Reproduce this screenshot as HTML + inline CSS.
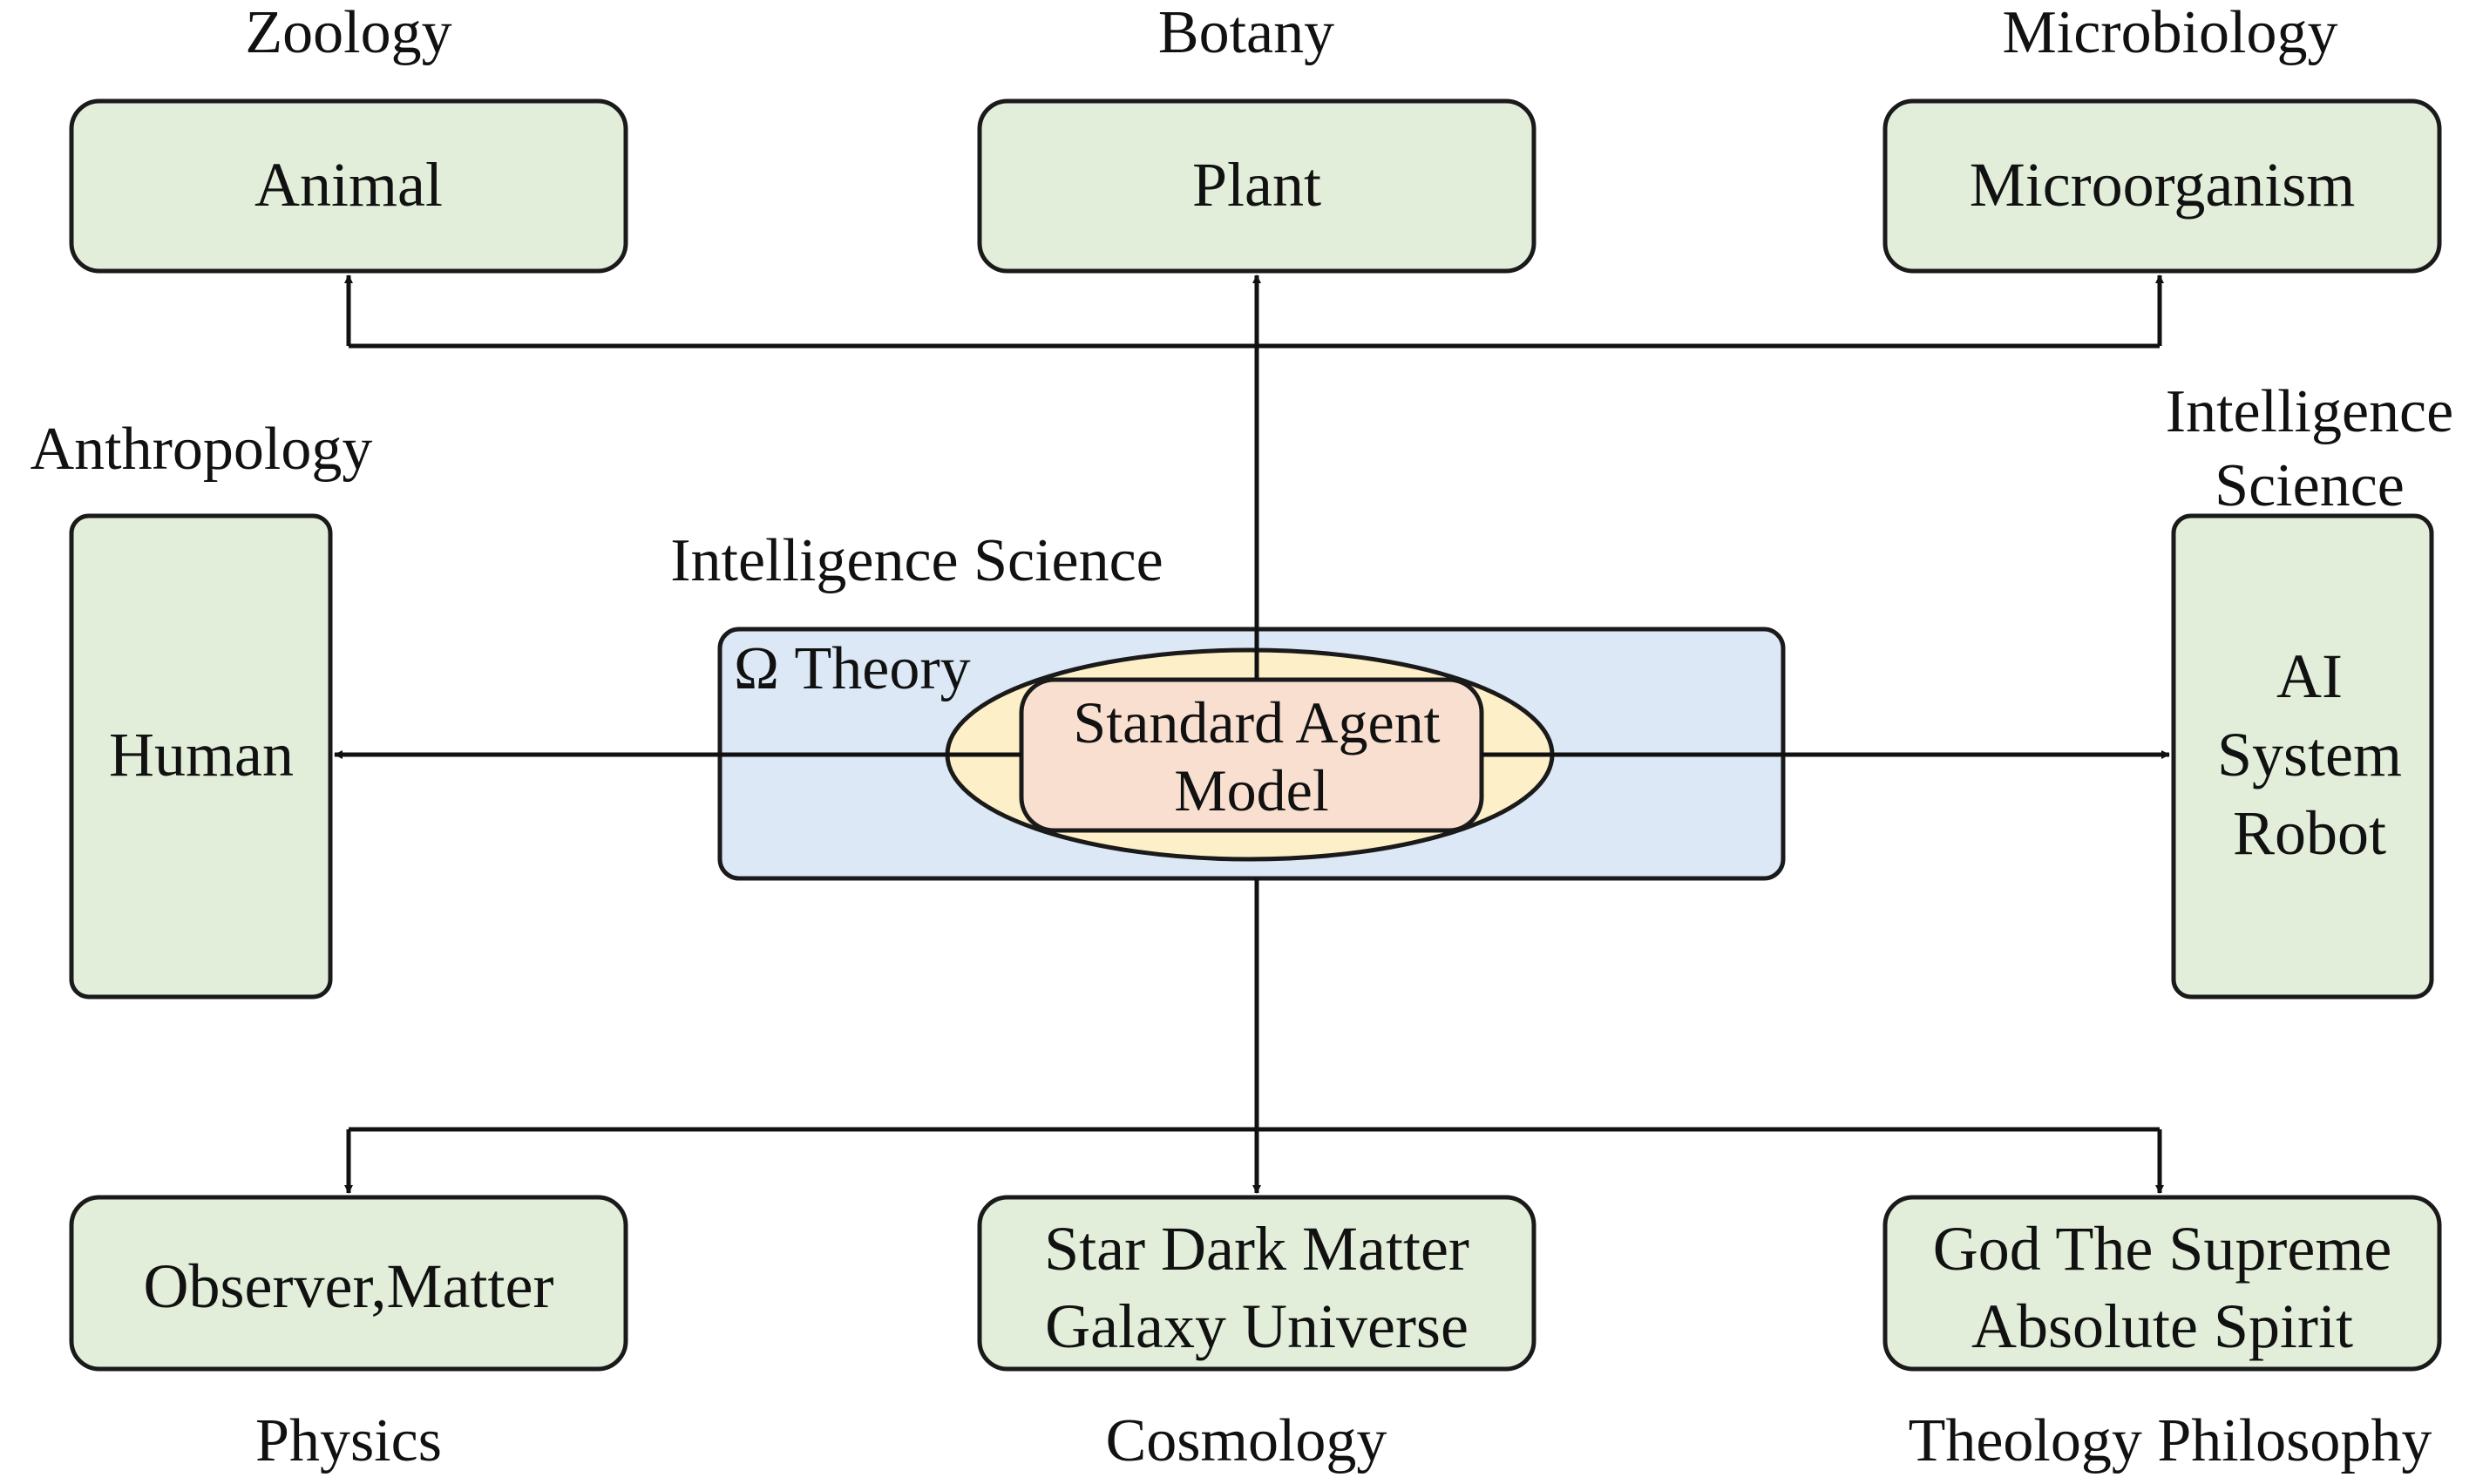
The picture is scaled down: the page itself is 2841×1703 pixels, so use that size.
<!DOCTYPE html>
<html><head><meta charset="utf-8"><style>html,body{margin:0;padding:0;background:#fff}svg{display:block}</style></head>
<body>
<svg width="2841" height="1703" viewBox="0 0 2841 1703" xmlns="http://www.w3.org/2000/svg" font-family="'Liberation Serif', serif" font-size="70" fill="#111">
<defs>
<marker id="a" markerWidth="10" markerHeight="10" refX="9" refY="5" orient="auto" markerUnits="userSpaceOnUse" viewBox="0 0 10 10"><path d="M0,0 L10,5 L0,10 z" fill="#111"/></marker>
</defs>
<g stroke="#1a1a1a" stroke-width="5" fill="#e2eed9">
<rect x="82" y="116" width="636" height="195" rx="32"/>
<rect x="1124" y="116" width="636" height="195" rx="32"/>
<rect x="2163" y="116" width="636" height="195" rx="32"/>
<rect x="82" y="592" width="297" height="552" rx="20"/>
<rect x="2494" y="592" width="296" height="552" rx="20"/>
<rect x="82" y="1374" width="636" height="197" rx="32"/>
<rect x="1124" y="1374" width="636" height="197" rx="32"/>
<rect x="2163" y="1374" width="636" height="197" rx="32"/>
<rect x="826" y="722" width="1220" height="286" rx="22" fill="#dce8f5"/>
<ellipse cx="1434" cy="866" rx="347" ry="120" fill="#fdefc7"/>
<rect x="1172" y="780" width="528" height="173" rx="38" fill="#f9dfd0"/>
</g>
<g stroke="#111" stroke-width="5" fill="none">
<path d="M400,397 H2478"/>
<path d="M400,397 V316" marker-end="url(#a)" stroke-width="5"/>
<path d="M2478,397 V316" marker-end="url(#a)"/>
<path d="M1442,780 V316" marker-end="url(#a)"/>
<path d="M1172,866 H384" marker-end="url(#a)"/>
<path d="M1700,866 H2489" marker-end="url(#a)"/>
<path d="M1442,1008 V1369" marker-end="url(#a)"/>
<path d="M400,1296 H2478"/>
<path d="M400,1296 V1369" marker-end="url(#a)"/>
<path d="M2478,1296 V1369" marker-end="url(#a)"/>
</g>
<g text-anchor="middle">
<text x="400" y="60">Zoology</text>
<text x="1430" y="60">Botany</text>
<text x="2490" y="60">Microbiology</text>
<text x="400" y="236" font-size="72">Animal</text>
<text x="1442" y="236" font-size="72">Plant</text>
<text x="2481" y="236" font-size="72">Microorganism</text>
<text x="231" y="538">Anthropology</text>
<text x="2650" y="495">Intelligence</text>
<text x="2650" y="580">Science</text>
<text x="1052" y="666">Intelligence Science</text>
<text x="231" y="890" font-size="72">Human</text>
<text x="2650" y="800" font-size="72">AI</text>
<text x="2650" y="890" font-size="72">System</text>
<text x="2650" y="980" font-size="72">Robot</text>
<text x="1442" y="852" font-size="68">Standard Agent</text>
<text x="1436" y="930" font-size="68">Model</text>
<text x="400" y="1500" font-size="72">Observer,Matter</text>
<text x="1442" y="1457" font-size="72">Star Dark Matter</text>
<text x="1442" y="1546" font-size="72">Galaxy Universe</text>
<text x="2481" y="1457" font-size="72">God The Supreme</text>
<text x="2481" y="1546" font-size="72">Absolute Spirit</text>
<text x="400" y="1676">Physics</text>
<text x="1430" y="1676">Cosmology</text>
<text x="2490" y="1676">Theology Philosophy</text>
</g>
<text x="842" y="790" font-size="70">Ω  Theory</text>
</svg>
</body></html>
